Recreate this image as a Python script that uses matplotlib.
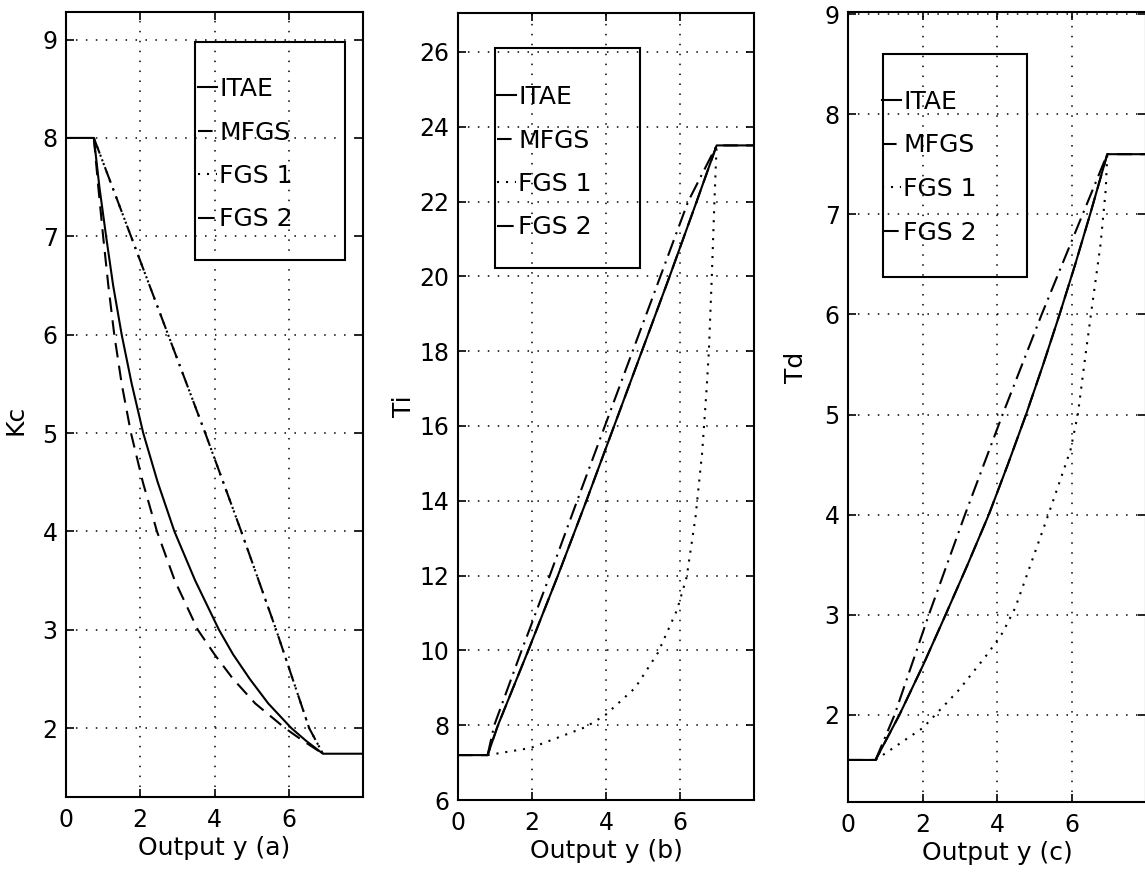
import matplotlib
matplotlib.use('Agg')
import matplotlib.pyplot as plt
from matplotlib.patches import Rectangle

plt.rcParams['font.family'] = ['DejaVu Sans']

W, H = 1145, 876

# ---- (a) Kc vs output y
ya_itae = [0, 0.75, 0.9, 1.08, 1.27, 1.5, 1.77, 2.08, 2.47, 2.92, 3.48, 4.12, 4.5, 4.95, 5.45, 6.07, 6.47, 6.92, 8]
kc_itae = [8, 8, 7.5, 7, 6.5, 6, 5.5, 5, 4.5, 4, 3.5, 3, 2.75, 2.5, 2.25, 2, 1.87, 1.74, 1.74]
ya_mfgs = [0.75, 0.87, 1.0, 1.14, 1.3, 1.5, 1.75, 2.07, 2.45, 2.93, 3.55, 4.0, 4.5, 5.1, 5.9, 6.35, 6.92]
kc_mfgs = [8, 7.5, 7, 6.5, 6, 5.5, 5, 4.5, 4, 3.5, 3, 2.75, 2.5, 2.25, 2, 1.88, 1.74]
ya_fgs = [0.75, 1.75, 2.75, 3.75, 4.72, 5.66, 6.55, 6.92]
kc_fgs1 = [8, 7, 6, 5, 4, 3, 2, 1.74]
kc_fgs2 = [8, 7, 6, 5, 4, 3, 2, 1.74]

# ---- (b) Ti vs output y
yb_itae = [0, 0.8, 1.08, 1.9, 2.7, 3.47, 4.22, 4.97, 5.72, 6.45, 6.99, 8]
ti_itae = [7.2, 7.2, 8, 10, 12, 14, 16, 18, 20, 22, 23.5, 23.5]
ti_mfgs = ti_itae
yb_fgs2 = [0.8, 0.98, 1.72, 2.48, 3.22, 3.97, 4.72, 5.47, 6.22, 6.99]
ti_fgs2 = [7.2, 8, 10, 12, 14, 16, 18, 20, 22, 23.5]
yb_fgs1 = [0.8, 1.96, 3.45, 3.98, 4.79, 5.4, 5.92, 6.18, 6.42, 6.6, 6.72, 6.78, 6.86, 6.93, 6.99]
ti_fgs1 = [7.2, 7.39, 7.95, 8.27, 9.0, 9.93, 11.08, 11.96, 13.57, 15.3, 17, 18, 20, 22, 23.5]

# ---- (c) Td vs output y
yc_itae = [0, 0.74, 1.38, 2.02, 2.62, 3.21, 3.78, 4.29, 4.78, 5.24, 5.68, 6.1, 6.5, 6.96, 8]
td_itae = [1.55, 1.55, 2, 2.5, 3, 3.5, 4, 4.5, 5, 5.5, 6, 6.5, 7, 7.6, 7.6]
td_mfgs = td_itae
yc_fgs2 = [0.74, 1.25, 2.17, 3.14, 4.15, 5.2, 6.3, 6.96]
td_fgs2 = [1.55, 2, 3, 4, 5, 6, 7, 7.6]
yc_fgs1 = [0.74, 2.01, 2.98, 3.77, 4.15, 4.49, 5.35, 5.97, 6.17, 6.36, 6.54, 6.78, 6.92, 6.96]
td_fgs1 = [1.55, 1.87, 2.25, 2.62, 2.82, 3.07, 3.97, 4.64, 5.0, 5.55, 6.05, 6.7, 7.25, 7.6]

labels = ['ITAE', 'MFGS', 'FGS 1', 'FGS 2']
styles = ['-', (0, (7, 4)), (0, (1, 3.3)), (0, (8, 3, 1, 3))]

fig = plt.figure(figsize=(W / 100, H / 100), dpi=100)


def add_axes_px(l, t, r, b):
    return fig.add_axes([l / W, 1 - b / H, (r - l) / W, (b - t) / H])


def frame_px(l, t, r, b):
    fig.add_artist(Rectangle((l / W, 1 - b / H), (r - l) / W, (b - t) / H,
                             transform=fig.transFigure, fill=False,
                             lw=1.5, ec='black'))


panels = [
    dict(box=(66, 12, 363, 797), ylim=(1.3, 9.28), yticks=range(2, 10),
         ylabel='Kc', xlabel='Output y (a)',
         series=[(ya_itae, kc_itae), (ya_mfgs, kc_mfgs), (ya_fgs, kc_fgs1), (ya_fgs, kc_fgs2)],
         leg_box=(195, 42, 345, 260), leg_anchor=(198, 77), ylab_pos=(-0.131, 0.48)),
    dict(box=(458, 13, 754, 800), ylim=(6, 27.04), yticks=range(6, 27, 2),
         ylabel='Ti', xlabel='Output y (b)',
         series=[(yb_itae, ti_itae), (yb_itae, ti_mfgs), (yb_fgs1, ti_fgs1), (yb_fgs2, ti_fgs2)],
         leg_box=(495, 48, 640, 268), leg_anchor=(497, 85), ylab_pos=(-0.142, 0.5)),
    dict(box=(848, 12, 1146, 802), ylim=(1.13, 9.02), yticks=range(2, 10),
         ylabel='Td', xlabel='Output y (c)',
         series=[(yc_itae, td_itae), (yc_itae, td_mfgs), (yc_fgs1, td_fgs1), (yc_fgs2, td_fgs2)],
         leg_box=(883, 54, 1027, 277), leg_anchor=(882, 90), ylab_pos=(-0.134, 0.55)),
]

for p in panels:
    ax = add_axes_px(*p['box'])
    handles = []
    for (xs, ys), ls, lab in zip(p['series'], styles, labels):
        ln, = ax.plot(xs, ys, color='black', lw=1.5, linestyle=ls, label=lab)
        handles.append(ln)

    ax.set_xlim(0, 8)
    ax.set_ylim(*p['ylim'])
    ax.set_xticks([0, 2, 4, 6])
    ax.set_yticks(list(p['yticks']))
    ax.grid(True, color='black', linestyle=(0, (1, 5.5)), linewidth=1.1)
    ax.tick_params(direction='in', top=True, right=True, length=6, width=1.2,
                   labelsize=17)
    ax.tick_params(axis='y', pad=6)
    ax.tick_params(axis='x', pad=8)
    for s in ax.spines.values():
        s.set_linewidth(1.5)

    ax.set_xlabel(p['xlabel'], fontsize=18, labelpad=3)
    ax.set_ylabel(p['ylabel'], fontsize=18)
    ax.yaxis.set_label_coords(*p['ylab_pos'])

    lx, ly = p['leg_anchor']
    ax.legend(handles=handles, loc='upper left',
              bbox_to_anchor=(lx / W, 1 - ly / H), bbox_transform=fig.transFigure,
              frameon=False, borderpad=0, borderaxespad=0, fontsize=18,
              handlelength=0.75, handletextpad=0.1, labelspacing=0.78)
    frame_px(*p['leg_box'])

fig.savefig('out.png', dpi=100, facecolor='white')
